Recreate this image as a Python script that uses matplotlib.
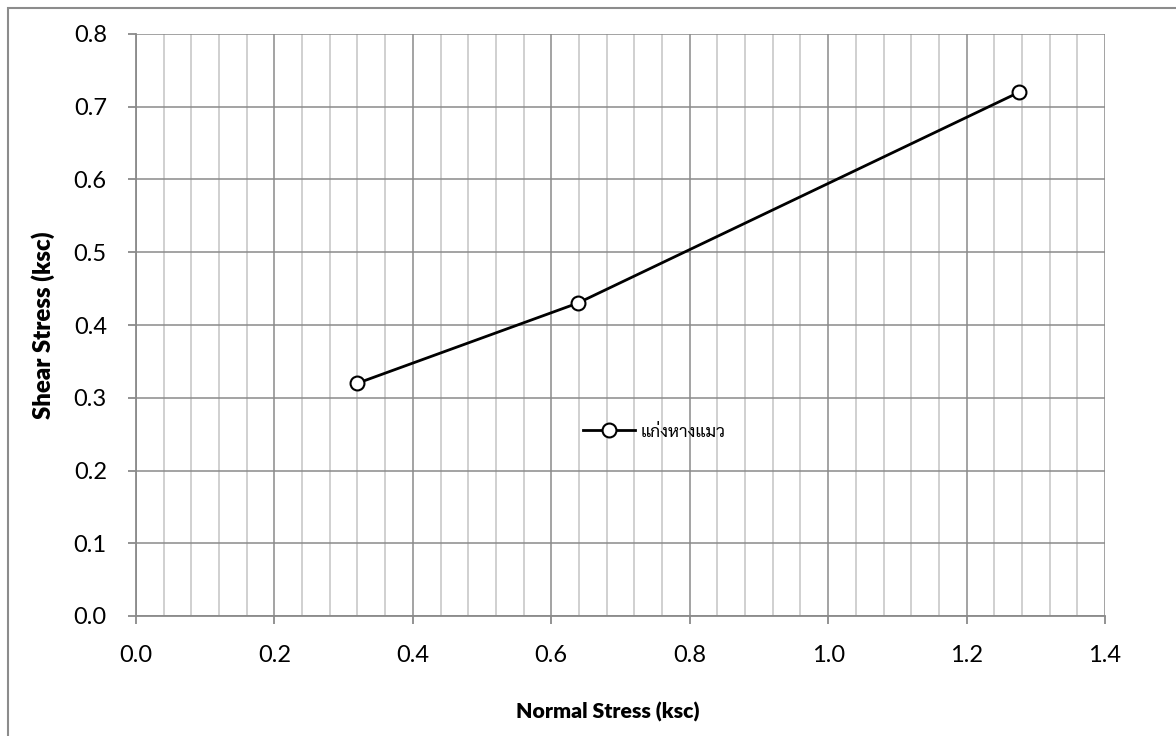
import matplotlib
matplotlib.use("Agg")
import matplotlib.pyplot as plt
import matplotlib.patches as mpatches
from matplotlib.ticker import MultipleLocator, FormatStrFormatter

# Data
normal_stress = [0.32, 0.638, 1.276]
shear_stress = [0.32, 0.43, 0.72]
series_name = "แก่งหางแมว"
x_label = "Normal Stress (ksc)"
y_label = "Shear Stress (ksc)"

W, H = 1176, 736
fig = plt.figure(figsize=(W / 100, H / 100), dpi=100)
fig.patch.set_facecolor("white")

# outer chart border
fig.patches.append(mpatches.Rectangle((8 / W, -0.1), 2.0, (H - 8) / H + 0.1,
                                      transform=fig.transFigure, fill=False,
                                      edgecolor="#8c8c8c", linewidth=1.5))

L, R, T, B = 136, 1105, 34, 616
ax = fig.add_axes([L / W, 1 - B / H, (R - L) / W, (B - T) / H])

tick_font = "Lato"

ax.set_xlim(0, 1.4)
ax.set_ylim(0, 0.8)
ax.xaxis.set_major_locator(MultipleLocator(0.2))
ax.xaxis.set_minor_locator(MultipleLocator(0.04))
ax.yaxis.set_major_locator(MultipleLocator(0.1))

ax.grid(which="major", axis="x", color="#8a8a8a", linewidth=1.1)
ax.grid(which="minor", axis="x", color="#c4c4c4", linewidth=1.1)
ax.grid(which="major", axis="y", color="#8a8a8a", linewidth=1.1)
ax.set_axisbelow(True)

for s in ["top", "right"]:
    ax.spines[s].set_visible(False)
for s in ["left", "bottom"]:
    ax.spines[s].set_color("#8a8a8a")
    ax.spines[s].set_linewidth(1.3)

ax.tick_params(axis="both", which="major", direction="out", length=6,
               width=1.3, color="#8a8a8a", labelsize=17, labelcolor="black")
ax.tick_params(axis="x", which="major", pad=15)
ax.tick_params(axis="y", which="major", pad=15)
ax.tick_params(axis="x", which="minor", length=0)
ax.xaxis.set_major_formatter(FormatStrFormatter("%.1f"))
ax.yaxis.set_major_formatter(FormatStrFormatter("%.1f"))
for lab in ax.get_xticklabels() + ax.get_yticklabels():
    lab.set_fontfamily(tick_font)

ax.plot(normal_stress, shear_stress, color="black", linewidth=2,
        marker="o", markersize=10, markerfacecolor="white",
        markeredgecolor="black", markeredgewidth=1.5, label=series_name,
        clip_on=False, zorder=5)

ax.set_xlabel(x_label, fontsize=15.3, fontweight="heavy", family=tick_font)
ax.set_ylabel(y_label, fontsize=17.3, fontweight="heavy", family=tick_font)
ax.xaxis.set_label_coords((608 - L) / (R - L), -(712 - B) / (B - T))
ax.yaxis.set_label_coords(-(L - 43) / (R - L), (B - 325) / (B - T))
ax.xaxis.label.set_va("center")
ax.yaxis.label.set_va("center")

leg = ax.legend(loc="center left",
                bbox_to_anchor=((583 - L) / (R - L), (B - 432) / (B - T)),
                frameon=False, borderpad=0, borderaxespad=0, handlelength=3.0,
                handletextpad=0.3, numpoints=1,
                prop={"family": ["Sarabun", "Noto Sans Thai", "DejaVu Sans"],
                      "size": 12.5})

fig.savefig("out.png", dpi=100, facecolor="white")
